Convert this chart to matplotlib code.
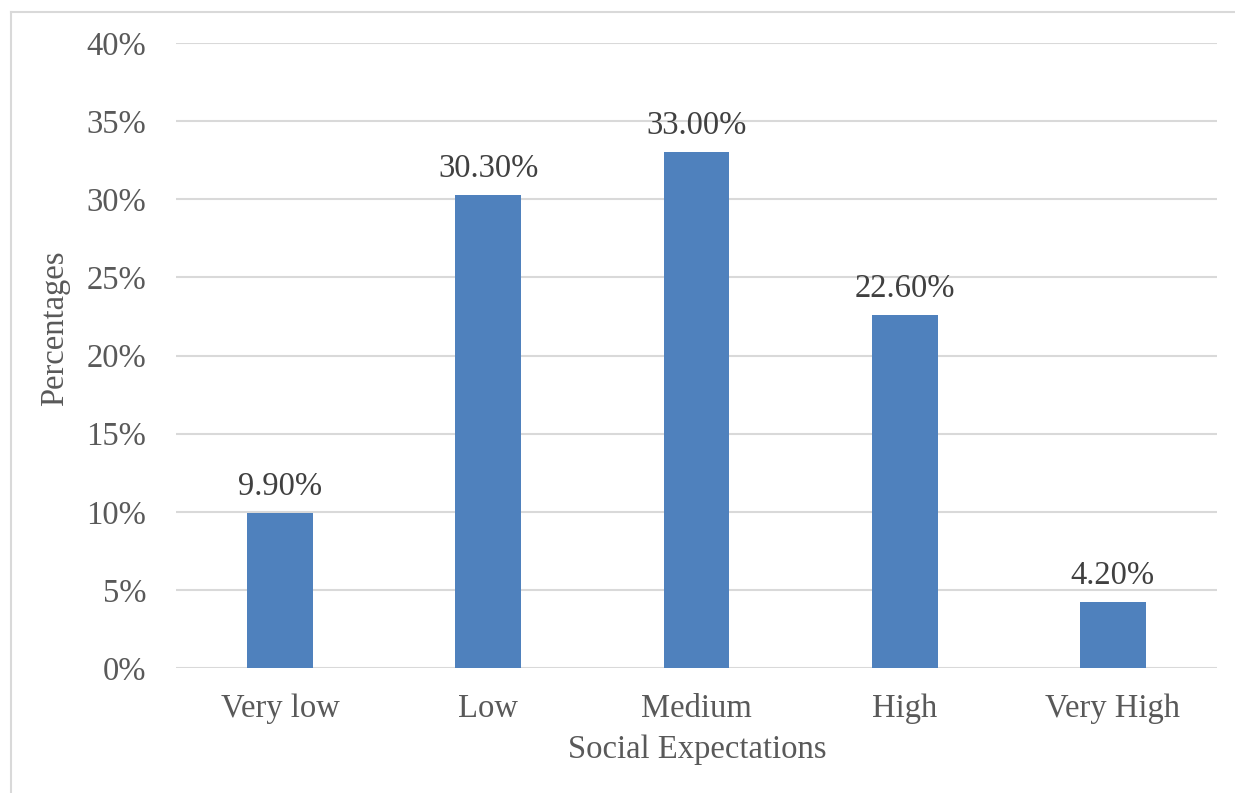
import matplotlib.pyplot as plt
from matplotlib.lines import Line2D

# Distribution of social expectation levels
categories = ["Very low", "Low", "Medium", "High", "Very High"]
percentages = [9.90, 30.30, 33.00, 22.60, 4.20]
yticks = [0, 5, 10, 15, 20, 25, 30, 35, 40]

bar_color = "#4F81BD"
text_color = "#595959"
grid_color = "#D9D9D9"
fs = 23.5

plt.rcParams["font.family"] = ["Liberation Serif", "DejaVu Serif"]

fig = plt.figure(figsize=(12.35, 7.93), dpi=100)
ax = fig.add_axes([176 / 1235, 1 - 668 / 793, (1217 - 176) / 1235, (668 - 43) / 793])

x = range(len(categories))
ax.bar(x, percentages, width=0.317, color=bar_color, zorder=3)

for xi, v in zip(x, percentages):
    ax.text(xi, v + 0.7, "{:.2f}%".format(v), ha="center", va="bottom",
            fontsize=fs, color="#404040")

ax.set_xlim(-0.5, len(categories) - 0.5)
ax.set_ylim(0, 40)
ax.set_yticks(yticks)
ax.set_yticklabels(["{}%".format(t) for t in yticks])
ax.set_xticks(list(x))
ax.set_xticklabels(categories)
ax.tick_params(axis="both", length=0, labelsize=fs, labelcolor=text_color)
ax.tick_params(axis="y", pad=21.5)
ax.tick_params(axis="x", pad=18.5)
ax.yaxis.grid(True, color=grid_color, linewidth=1.5, zorder=0)
for s in ax.spines.values():
    s.set_visible(False)

fig.text(697 / 1235, 1 - 750 / 793, "Social Expectations", ha="center", va="center",
         fontsize=fs, color=text_color)
fig.text(55 / 1235, 1 - 328 / 793, "Percentages", ha="center", va="center",
         rotation=90, fontsize=fs, color=text_color)

# chart area frame
fig.add_artist(Line2D([11 / 1235, 1.0], [1 - 12 / 793, 1 - 12 / 793],
                      transform=fig.transFigure, color=grid_color, linewidth=1.5))
fig.add_artist(Line2D([11 / 1235, 11 / 1235], [0, 1 - 12 / 793],
                      transform=fig.transFigure, color=grid_color, linewidth=1.5))

fig.savefig("out.png", dpi=100)
